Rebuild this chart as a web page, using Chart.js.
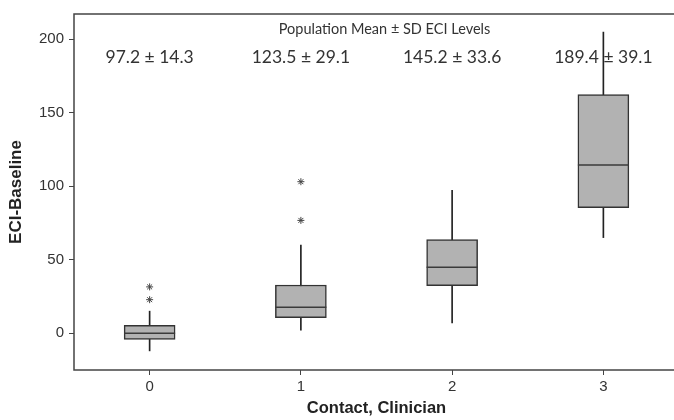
<!DOCTYPE html>
<html>
<head>
<meta charset="utf-8">
<script src="https://cdn.jsdelivr.net/npm/chart.js@4.4.1/dist/chart.umd.min.js"></script>
<style>
    html, body { margin: 0; padding: 0; background: #fff; overflow: hidden; }
    #wrap { width: 690px; height: 420px; }
</style>
</head>
<body>
<div id="wrap"><canvas id="boxChart"></canvas></div>
<script>
var categories = ['0', '1', '2', '3'];
var whiskerLow = [-12, 2, 7, 65];
var q1 = [-4.2, 10.5, 32.4, 85.4];
var median = [0, 17.7, 44.9, 114.4];
var q3 = [5.4, 32.8, 63.7, 162.2];
var whiskerHigh = [15, 60, 97.2, 204.7];
var outlierCategory = ['0', '0', '1', '1'];
var outlierValue = [31.5, 22.8, 103, 76.7];
var meanSdLabels = ['97.2 ± 14.3', '123.5 ± 29.1', '145.2 ± 33.6', '189.4 ± 39.1'];
var yTickValues = [0, 50, 100, 150, 200];

var boxRanges = [];
var whiskerRanges = [];
var outlierPoints = [];
for (let i in categories) {
    boxRanges.push([q1[i], q3[i]]);
    whiskerRanges.push([whiskerLow[i], whiskerHigh[i]]);
}
for (let i in outlierValue) {
    outlierPoints.push({x: outlierCategory[i], y: outlierValue[i]});
}

var BOX_WIDTH = 51;

// frame, header texts and median lines
var boxExtras = {
    id: 'boxExtras',
    beforeDatasetsDraw: function (chart) {
        var ctx = chart.ctx;
        var xs = chart.scales.x;
        ctx.save();
        ctx.fillStyle = '#333';
        ctx.textAlign = 'center';
        ctx.textBaseline = 'middle';
        ctx.font = '14.5px Lato';
        ctx.fillText('Population Mean ± SD ECI Levels', 384.5, 29);
        ctx.font = '17.5px Lato';
        for (let i in categories) {
            ctx.fillText(meanSdLabels[i], xs.getPixelForValue(Number(i)), 57);
        }
        ctx.restore();
    },
    afterDatasetsDraw: function (chart) {
        var ctx = chart.ctx;
        var xs = chart.scales.x;
        var ys = chart.scales.y;
        var a = chart.chartArea;
        ctx.save();
        ctx.strokeStyle = '#3a3a3a';
        ctx.lineWidth = 1.5;
        for (let i in categories) {
            var cx = xs.getPixelForValue(Number(i));
            var my = ys.getPixelForValue(median[i]);
            ctx.beginPath();
            ctx.moveTo(cx - BOX_WIDTH / 2, my);
            ctx.lineTo(cx + BOX_WIDTH / 2, my);
            ctx.stroke();
        }
        ctx.strokeStyle = '#444';
        ctx.lineWidth = 1.5;
        ctx.strokeRect(a.left, a.top, a.right - a.left, a.bottom - a.top);
        ctx.restore();
    }
};

var boxChart = new Chart(document.getElementById('boxChart'), {
    type: 'bar',
    data: {
        labels: categories,
        datasets: [
            {
                label: 'whisker',
                data: whiskerRanges,
                backgroundColor: '#222',
                borderWidth: 0,
                barThickness: 1,
                grouped: false,
                order: 3
            },
            {
                label: 'box',
                data: boxRanges,
                backgroundColor: '#b2b2b2',
                borderColor: '#333',
                borderWidth: 1.5,
                borderSkipped: false,
                barThickness: BOX_WIDTH,
                grouped: false,
                order: 2
            },
            {
                type: 'scatter',
                label: 'outliers',
                data: outlierPoints,
                pointStyle: 'star',
                radius: 3.5,
                borderColor: '#444',
                borderWidth: 1,
                order: 1
            }
        ]
    },
    options: {
        responsive: true,
        maintainAspectRatio: false,
        animation: false,
        layout: {padding: {left: 0, right: 11, top: 9, bottom: 0}},
        plugins: {
            legend: {display: false},
            tooltip: {enabled: false}
        },
        scales: {
            x: {
                type: 'category',
                offset: true,
                border: {display: false},
                grid: {offset: false, drawOnChartArea: false, tickLength: 5, tickColor: '#444', tickWidth: 1},
                ticks: {color: '#333', font: {family: 'Liberation Sans', size: 15}, padding: 3, maxRotation: 0},
                title: {
                    display: true,
                    text: 'Contact, Clinician',
                    color: '#222',
                    font: {family: 'Liberation Sans', size: 16.5, weight: 'bold'},
                    padding: {top: 0, bottom: 2}
                },
                afterFit: function (scale) { scale.height = 50; }
            },
            y: {
                min: -25,
                max: 217,
                border: {display: false},
                grid: {drawOnChartArea: false, tickLength: 5, tickColor: '#444', tickWidth: 1},
                ticks: {color: '#333', font: {family: 'Liberation Sans', size: 15}, padding: 5},
                afterBuildTicks: function (scale) {
                    scale.ticks = yTickValues.map(function (v) { return {value: v}; });
                },
                title: {
                    display: true,
                    text: 'ECI-Baseline',
                    color: '#222',
                    font: {family: 'Liberation Sans', size: 17, weight: 'bold'},
                    padding: {top: 6, bottom: 0}
                },
                afterFit: function (scale) { scale.width = 74; }
            }
        }
    },
    plugins: [boxExtras]
});
</script>
</body>
</html>
